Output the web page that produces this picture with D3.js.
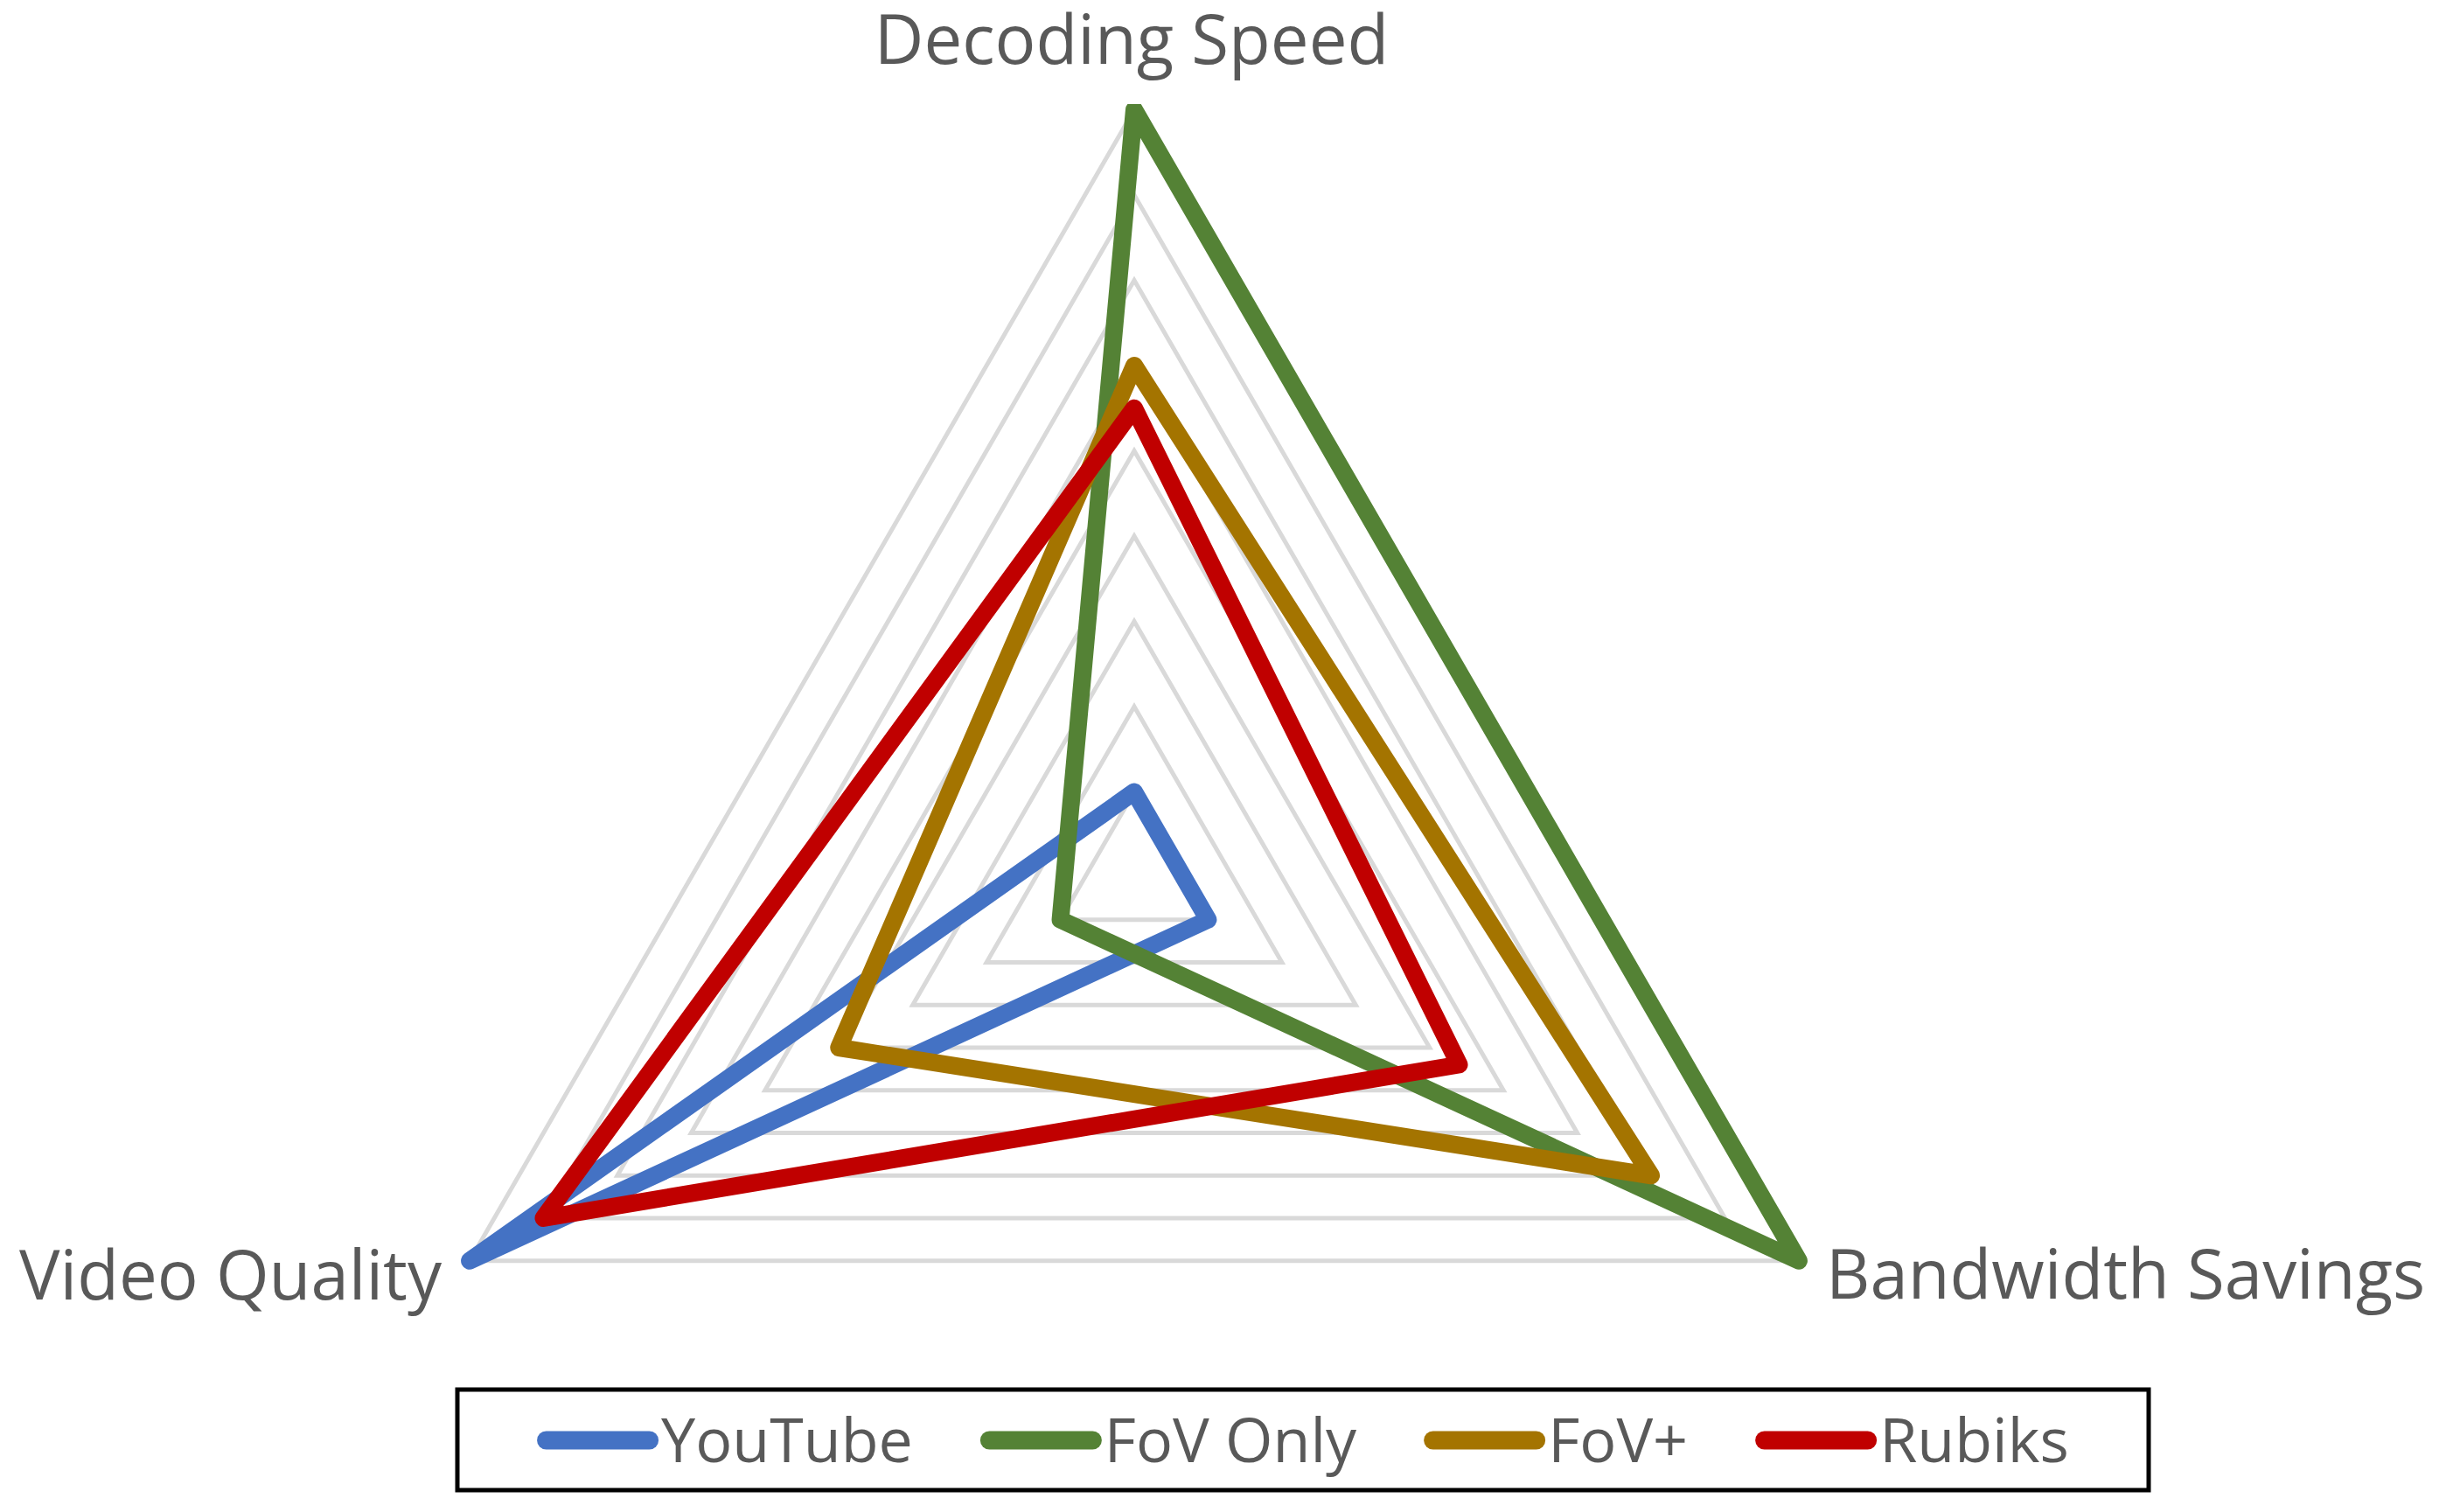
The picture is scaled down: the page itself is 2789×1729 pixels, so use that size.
<!DOCTYPE html>
<html>
<head>
<meta charset="utf-8">
<script src="https://cdn.jsdelivr.net/npm/d3@7/dist/d3.min.js"></script>
<style>
  html, body { margin: 0; padding: 0; background: #fff; }
  svg { display: block; }
</style>
</head>
<body>
<svg id="chart" width="2789" height="1729"></svg>
<script>
// ---- data ----
const axisLabels = ["Decoding Speed", "Bandwidth Savings", "Video Quality"];
const seriesNames = ["YouTube", "FoV Only", "FoV+", "Rubiks"];
const youtubeValues = [1, 1, 9];
const fovOnlyValues = [9, 9, 1];
const fovPlusValues = [6, 7, 4];
const rubiksValues = [5.5, 4.4, 8];
const seriesColors = ["#4472C4", "#548235", "#A47400", "#C00000"];
const ringValues = [1, 2, 3, 4, 5, 6, 7, 8, 9];

const allSeries = [youtubeValues, fovOnlyValues, fovPlusValues, rubiksValues];

// ---- layout ----
const W = 2789, H = 1729;
const cx = 1297, cy = 1003, R = 877.5;
const svg = d3.select("#chart");
const font = "'Open Sans', 'Noto Sans', sans-serif";
const textColor = "#595959";

const r = d3.scaleLinear().domain([0, d3.max(ringValues)]).range([0, R]);
const angle = d3.scalePoint().domain(d3.range(axisLabels.length)).range([0, 2 * Math.PI * (axisLabels.length - 1) / axisLabels.length]);

svg.append("defs").append("clipPath").attr("id", "plotclip")
  .append("rect").attr("x", 0).attr("y", 119).attr("width", W).attr("height", 1450);

const g = svg.append("g").attr("transform", `translate(${cx},${cy})`);

// gridlines
const ringLine = d3.lineRadial().curve(d3.curveLinearClosed);
g.append("g").selectAll("path").data(ringValues).join("path")
  .attr("d", v => ringLine(axisLabels.map((_, i) => [angle(i), r(v)])))
  .attr("fill", "none")
  .attr("stroke", "#D9D9D9")
  .attr("stroke-width", 5);

// series
const seriesLine = d3.lineRadial()
  .angle((d, i) => angle(i))
  .radius(d => r(d))
  .curve(d3.curveLinearClosed);

g.append("g").attr("clip-path", "url(#plotclip)")
  .attr("transform", `translate(${-cx},${-cy})`)
  .append("g").attr("transform", `translate(${cx},${cy})`)
  .selectAll("path").data(allSeries).join("path")
  .attr("d", d => seriesLine(d))
  .attr("fill", "none")
  .attr("stroke", (d, i) => seriesColors[i])
  .attr("stroke-width", 20)
  .attr("stroke-linejoin", "round")
  .attr("stroke-linecap", "round");

// axis labels
const labelSize = 78;
svg.append("text").text(axisLabels[0])
  .attr("x", 1294).attr("y", 73).attr("text-anchor", "middle")
  .attr("font-family", font).attr("font-size", labelSize).attr("fill", textColor);
svg.append("text").text(axisLabels[1])
  .attr("x", 2088).attr("y", 1485).attr("text-anchor", "start")
  .attr("font-family", font).attr("font-size", labelSize).attr("fill", textColor);
svg.append("text").text(axisLabels[2])
  .attr("x", 505).attr("y", 1486).attr("text-anchor", "end")
  .attr("font-family", font).attr("font-size", labelSize).attr("fill", textColor);

// legend
const legBox = { x: 523, y: 1589, w: 1934, h: 115 };
svg.append("rect")
  .attr("x", legBox.x).attr("y", legBox.y).attr("width", legBox.w).attr("height", legBox.h)
  .attr("fill", "none").attr("stroke", "#000").attr("stroke-width", 5);

const legG = svg.append("g");
const lineLen = 139, lineW = 21, textGap = 3, itemGap = 77, legendSize = 70;
const items = legG.selectAll("g").data(seriesNames).join("g");
items.append("line")
  .attr("x1", lineW / 2).attr("x2", lineLen - lineW / 2)
  .attr("y1", 0).attr("y2", 0)
  .attr("stroke", (d, i) => seriesColors[i])
  .attr("stroke-width", lineW)
  .attr("stroke-linecap", "round");
items.append("text").text(d => d)
  .attr("x", lineLen + textGap).attr("y", 25)
  .attr("font-family", font).attr("font-size", legendSize).attr("fill", textColor);

const widths = [];
items.each(function () {
  widths.push(lineLen + textGap + d3.select(this).select("text").node().getComputedTextLength());
});
const total = d3.sum(widths) + itemGap * (widths.length - 1);
let xPos = legBox.x + legBox.w / 2 - total / 2;
items.each(function (d, i) {
  d3.select(this).attr("transform", `translate(${xPos},1647)`);
  xPos += widths[i] + itemGap;
});
</script>
</body>
</html>
